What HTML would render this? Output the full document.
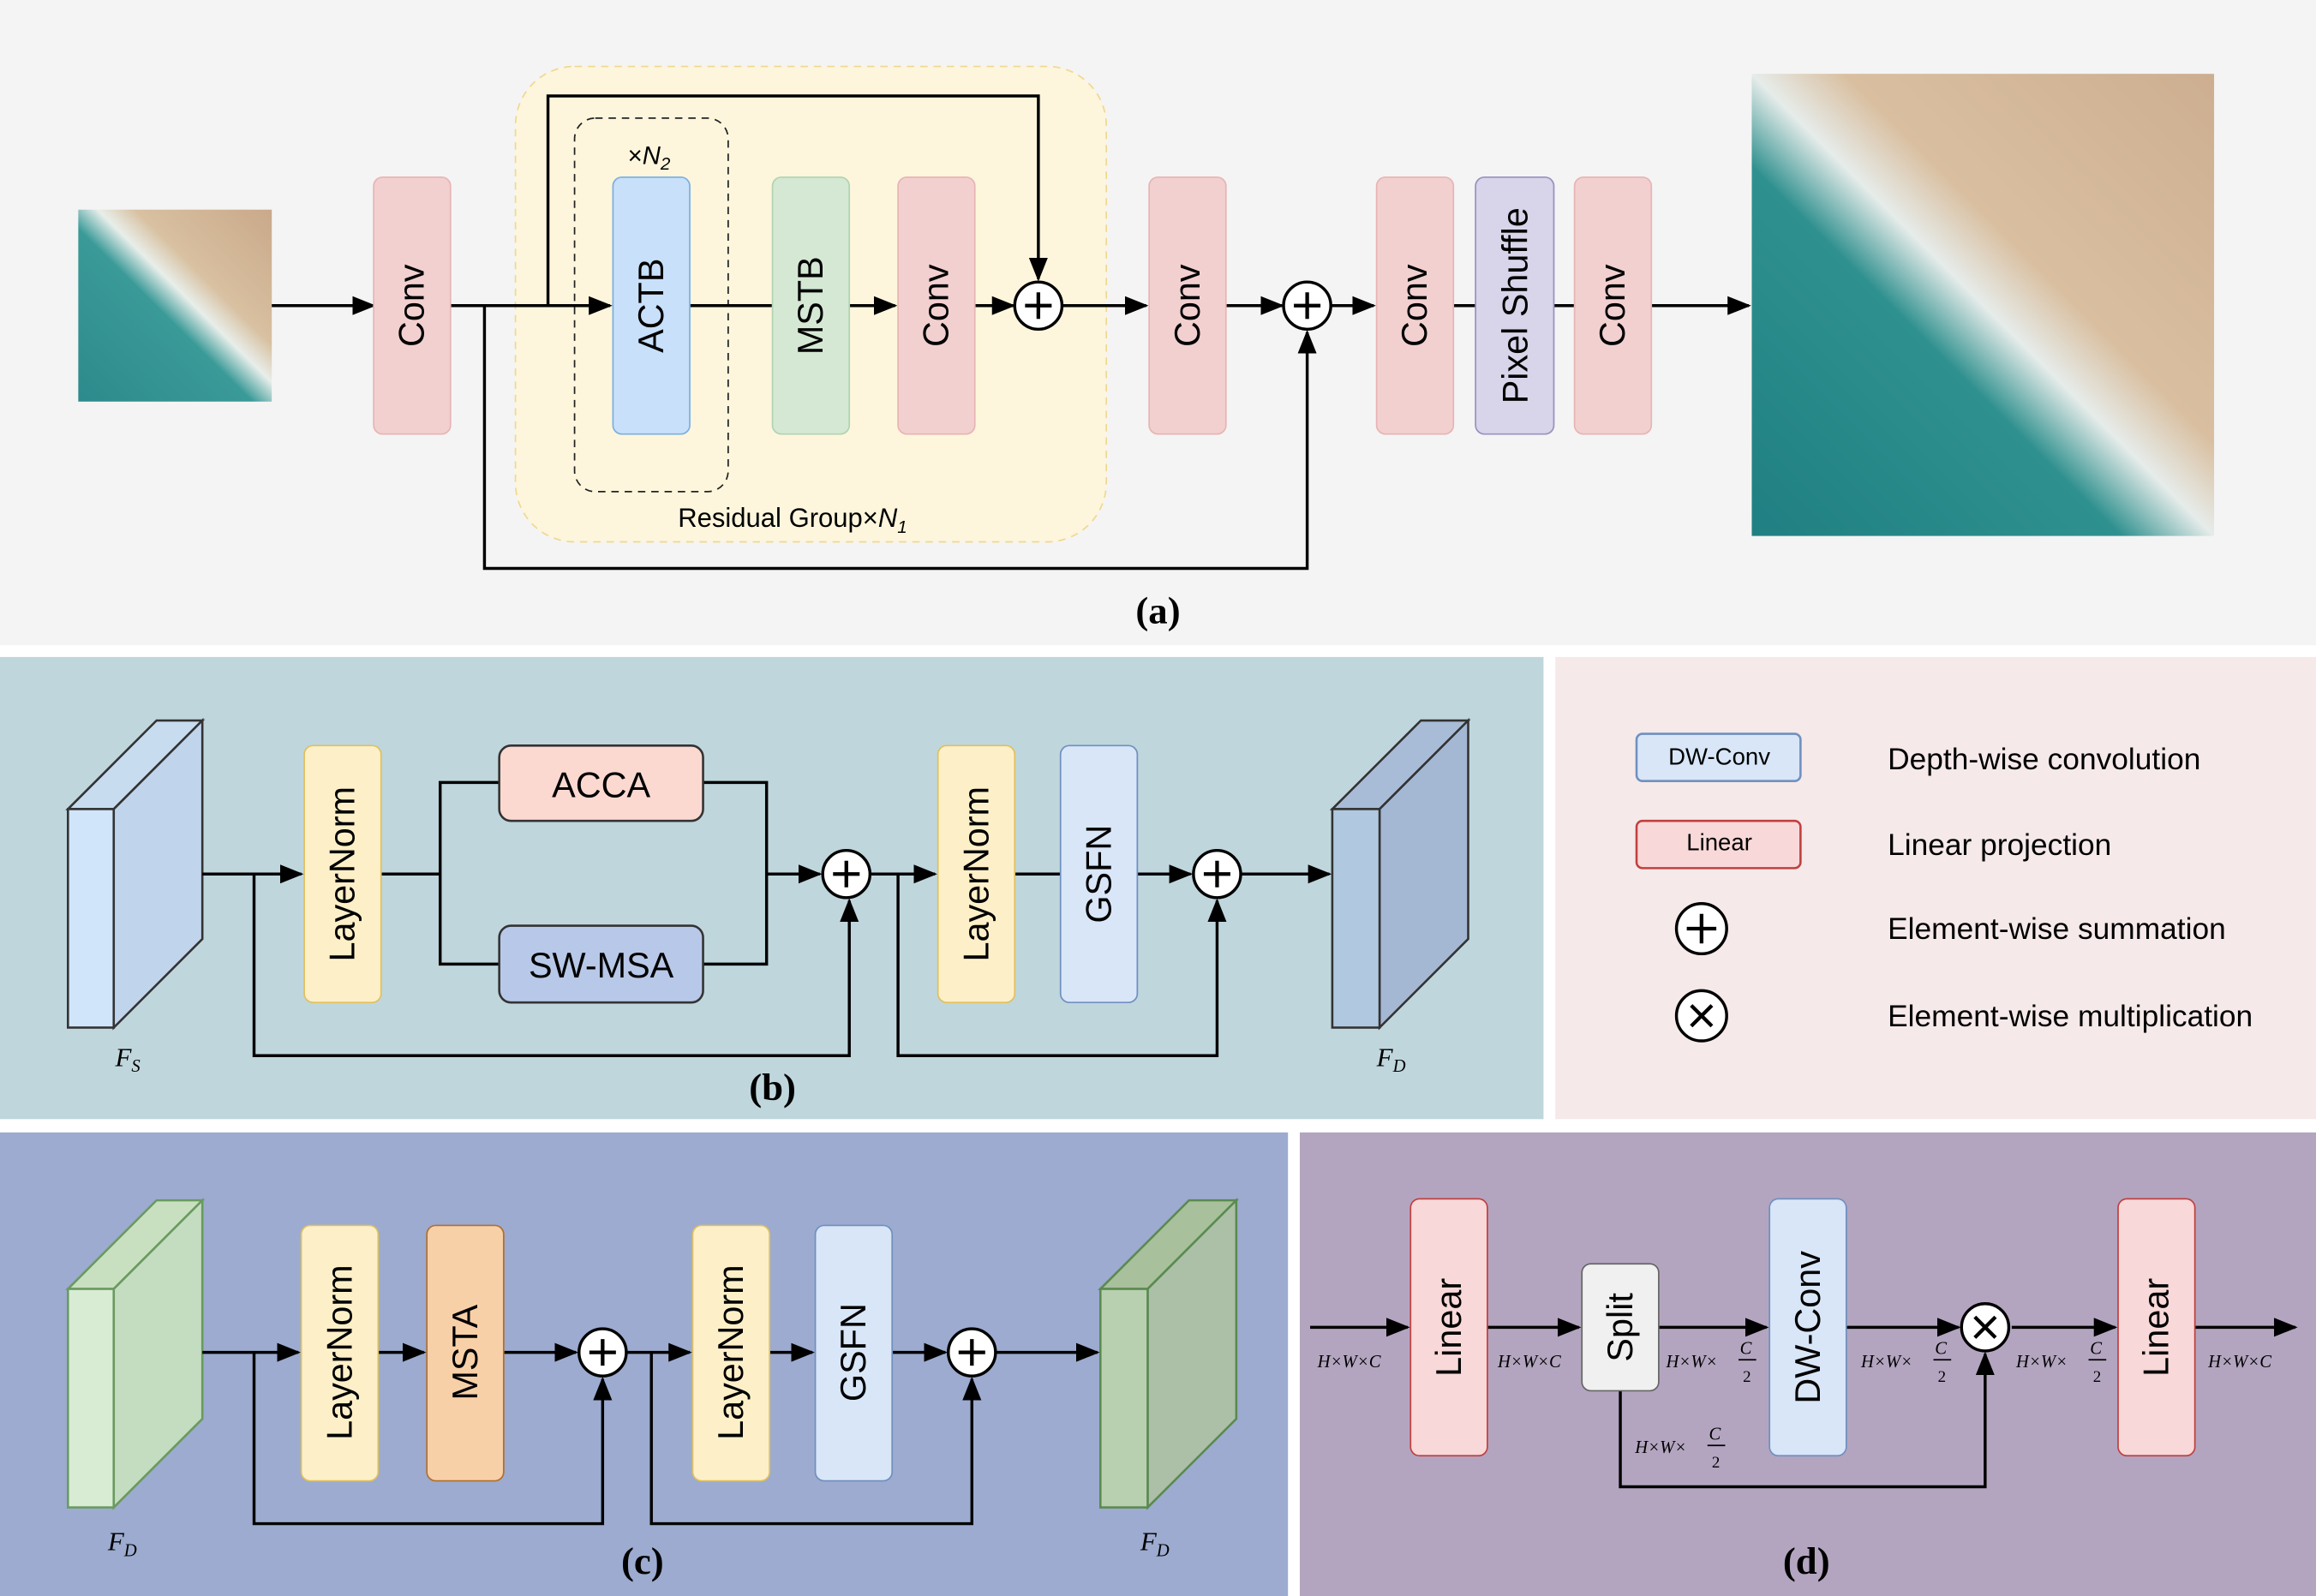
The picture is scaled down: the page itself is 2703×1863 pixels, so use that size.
<!DOCTYPE html>
<html><head><meta charset="utf-8"><style>
html,body{margin:0;padding:0;background:#fff;}
svg{display:block;}
text{font-family:"Liberation Sans",sans-serif;}
.serif, .serif text{font-family:"Liberation Serif",serif;}
</style></head><body>
<svg width="2703" height="1863" viewBox="0 0 1568 1081" preserveAspectRatio="none" xmlns="http://www.w3.org/2000/svg">
<defs>
<marker id="ar" viewBox="0 0 10 10" refX="9" refY="5" markerWidth="8" markerHeight="8" orient="auto"><path d="M0,1 L10,5 L0,9 z" fill="#000"/></marker>
<linearGradient id="beachS" x1="0" y1="1" x2="1" y2="0">
<stop offset="0" stop-color="#2d8a8c"/><stop offset="0.45" stop-color="#3a9a98"/><stop offset="0.55" stop-color="#e8eeea"/><stop offset="0.65" stop-color="#d8c0a0"/><stop offset="1" stop-color="#c9a98a"/></linearGradient>
<linearGradient id="beachL" x1="0" y1="1" x2="1" y2="0">
<stop offset="0" stop-color="#1f7f82"/><stop offset="0.4" stop-color="#2f918f"/><stop offset="0.5" stop-color="#e6ecea"/><stop offset="0.6" stop-color="#d9bfa0"/><stop offset="1" stop-color="#cdae90"/></linearGradient>
</defs>

<rect x="0" y="0" width="1568" height="437" fill="#f4f4f4"/>
<rect x="0" y="445" width="1045" height="313" fill="#bfd6dc"/>
<rect x="1053" y="445" width="515" height="313" fill="#f5e9e9"/>
<rect x="0" y="767" width="872" height="314" fill="#9cabcf"/>
<rect x="880" y="767" width="688" height="314" fill="#b3a5c0"/>

<!-- ===== (a) ===== -->
<rect x="53" y="142" width="131" height="130" fill="url(#beachS)"/>
<rect x="1186" y="50" width="313" height="313" fill="url(#beachL)"/>
<rect x="349" y="45" width="400" height="322" rx="40" fill="#fdf6dc" stroke="#f0d890" stroke-dasharray="5,4"/>
<rect x="389" y="80" width="104" height="253" rx="14" fill="none" stroke="#222" stroke-dasharray="5,4"/>
<text x="425" y="111" font-size="17">×<tspan font-style="italic">N</tspan><tspan font-size="12" dy="4" font-style="italic">2</tspan></text>
<text x="459" y="357" font-size="18">Residual Group×<tspan font-style="italic">N</tspan><tspan font-size="12" dy="4" font-style="italic">1</tspan></text>

<g stroke="#000" stroke-width="2" fill="none">
<line x1="184" y1="207" x2="253" y2="207" marker-end="url(#ar)"/>
<line x1="305" y1="207" x2="413" y2="207" marker-end="url(#ar)"/>
<line x1="467" y1="207" x2="523" y2="207"/>
<line x1="575" y1="207" x2="606" y2="207" marker-end="url(#ar)"/>
<line x1="660" y1="207" x2="686" y2="207" marker-end="url(#ar)"/>
<line x1="719" y1="207" x2="776" y2="207" marker-end="url(#ar)"/>
<line x1="830" y1="207" x2="868" y2="207" marker-end="url(#ar)"/>
<line x1="901" y1="207" x2="930" y2="207" marker-end="url(#ar)"/>
<line x1="984" y1="207" x2="999" y2="207"/>
<line x1="1052" y1="207" x2="1066" y2="207"/>
<line x1="1118" y1="207" x2="1184" y2="207" marker-end="url(#ar)"/>
<polyline points="371,207 371,65 703,65 703,189" marker-end="url(#ar)"/>
<polyline points="328,207 328,385 885,385 885,225" marker-end="url(#ar)"/>
</g>

<g font-size="24" text-anchor="middle">
<g><rect x="253" y="120" width="52" height="174" rx="6" fill="#f2d0d0" stroke="#e8b4b4"/><text transform="translate(287,207) rotate(-90)">Conv</text></g>
<g><rect x="415" y="120" width="52" height="174" rx="6" fill="#c8e0fa" stroke="#7ab0e0"/><text transform="translate(449,207) rotate(-90)">ACTB</text></g>
<g><rect x="523" y="120" width="52" height="174" rx="6" fill="#d4e8d4" stroke="#b0d4b0"/><text transform="translate(557,207) rotate(-90)">MSTB</text></g>
<g><rect x="608" y="120" width="52" height="174" rx="6" fill="#f2d0d0" stroke="#e8b4b4"/><text transform="translate(642,207) rotate(-90)">Conv</text></g>
<g><rect x="778" y="120" width="52" height="174" rx="6" fill="#f2d0d0" stroke="#e8b4b4"/><text transform="translate(812,207) rotate(-90)">Conv</text></g>
<g><rect x="932" y="120" width="52" height="174" rx="6" fill="#f2d0d0" stroke="#e8b4b4"/><text transform="translate(966,207) rotate(-90)">Conv</text></g>
<g><rect x="999" y="120" width="53" height="174" rx="6" fill="#d8d4ea" stroke="#9a90c0"/><text transform="translate(1034,207) rotate(-90)">Pixel Shuffle</text></g>
<g><rect x="1066" y="120" width="52" height="174" rx="6" fill="#f2d0d0" stroke="#e8b4b4"/><text transform="translate(1100,207) rotate(-90)">Conv</text></g>
</g>
<g><circle cx="703" cy="207" r="16" fill="#fff" stroke="#000" stroke-width="2"/><path d="M694,207h18M703,198v18" stroke="#000" stroke-width="2.5"/></g>
<g><circle cx="885" cy="207" r="16" fill="#fff" stroke="#000" stroke-width="2"/><path d="M876,207h18M885,198v18" stroke="#000" stroke-width="2.5"/></g>
<text x="784" y="422" class="serif" font-size="26" font-weight="bold" text-anchor="middle">(a)</text>

<!-- ===== (b) ===== -->
<g>
<polygon points="46,548 106,488 137,488 77,548" fill="#c8dcf0" stroke="#333" stroke-width="1.5"/>
<polygon points="77,548 137,488 137,636 77,696" fill="#c0d4ec" stroke="#333" stroke-width="1.5"/>
<rect x="46" y="548" width="31" height="148" fill="#d0e4fa" stroke="#333" stroke-width="1.5"/></g>
<text x="78" y="722" class="serif" font-size="18" font-style="italic">F<tspan font-size="12" dy="4">S</tspan></text>
<g>
<polygon points="902,548 962,488 994,488 934,548" fill="#a8bcd8" stroke="#333" stroke-width="1.5"/>
<polygon points="934,548 994,488 994,636 934,696" fill="#a4b8d4" stroke="#333" stroke-width="1.5"/>
<rect x="902" y="548" width="32" height="148" fill="#b0c8e0" stroke="#333" stroke-width="1.5"/></g>
<text x="932" y="722" class="serif" font-size="18" font-style="italic">F<tspan font-size="12" dy="4">D</tspan></text>
<g stroke="#000" stroke-width="2" fill="none">
<line x1="137" y1="592" x2="204" y2="592" marker-end="url(#ar)"/>
<line x1="258" y1="592" x2="298" y2="592"/>
<polyline points="338,530 298,530 298,653 338,653"/>
<polyline points="476,530 519,530 519,653 476,653"/>
<line x1="519" y1="592" x2="555" y2="592" marker-end="url(#ar)"/>
<line x1="589" y1="592" x2="633" y2="592" marker-end="url(#ar)"/>
<line x1="687" y1="592" x2="718" y2="592"/>
<line x1="770" y1="592" x2="806" y2="592" marker-end="url(#ar)"/>
<line x1="840" y1="592" x2="900" y2="592" marker-end="url(#ar)"/>
<polyline points="172,592 172,715 575,715 575,610" marker-end="url(#ar)"/>
<polyline points="608,592 608,715 824,715 824,610" marker-end="url(#ar)"/>
</g>
<g font-size="24" text-anchor="middle">
<g><rect x="206" y="505" width="52" height="174" rx="6" fill="#fdf0c8" stroke="#e0c060"/><text transform="translate(240,592) rotate(-90)">LayerNorm</text></g>
<g><rect x="338" y="505" width="138" height="51" rx="8" fill="#fbd9d0" stroke="#333" stroke-width="1.5"/><text x="407" y="540">ACCA</text></g>
<g><rect x="338" y="627" width="138" height="52" rx="8" fill="#b8c8e8" stroke="#333" stroke-width="1.5"/><text x="407" y="662">SW-MSA</text></g>
<g><rect x="635" y="505" width="52" height="174" rx="6" fill="#fdf0c8" stroke="#e0c060"/><text transform="translate(669,592) rotate(-90)">LayerNorm</text></g>
<g><rect x="718" y="505" width="52" height="174" rx="6" fill="#d8e6f8" stroke="#7090c0"/><text transform="translate(752,592) rotate(-90)">GSFN</text></g>
</g>
<g><circle cx="573" cy="592" r="16" fill="#fff" stroke="#000" stroke-width="2"/><path d="M564,592h18M573,583v18" stroke="#000" stroke-width="2.5"/></g>
<g><circle cx="824" cy="592" r="16" fill="#fff" stroke="#000" stroke-width="2"/><path d="M815,592h18M824,583v18" stroke="#000" stroke-width="2.5"/></g>
<text x="523" y="745" class="serif" font-size="26" font-weight="bold" text-anchor="middle">(b)</text>

<!-- legend -->
<g font-size="20.5">
<g><rect x="1108" y="497" width="111" height="32" rx="4" fill="#d8e6f8" stroke="#7090c0" stroke-width="1.5"/><text x="1164" y="518" font-size="16" text-anchor="middle">DW-Conv</text><text x="1278" y="521">Depth-wise convolution</text></g>
<g><rect x="1108" y="556" width="111" height="32" rx="4" fill="#f8d8d8" stroke="#c04040" stroke-width="1.5"/><text x="1164" y="576" font-size="16" text-anchor="middle">Linear</text><text x="1278" y="579">Linear projection</text></g>
<g><circle cx="1152" cy="629" r="17" fill="#fff" stroke="#000" stroke-width="2"/><path d="M1142,629h20M1152,619v20" stroke="#000" stroke-width="2.5"/><text x="1278" y="636">Element-wise summation</text></g>
<g><circle cx="1152" cy="688" r="17" fill="#fff" stroke="#000" stroke-width="2"/><path d="M1145,681l14,14M1159,681l-14,14" stroke="#000" stroke-width="2.5"/><text x="1278" y="695">Element-wise multiplication</text></g>
</g>

<!-- ===== (c) ===== -->
<g>
<polygon points="46,873 106,813 137,813 77,873" fill="#c8e0c0" stroke="#6a9a60" stroke-width="1.5"/>
<polygon points="77,873 137,813 137,961 77,1021" fill="#c4dcc0" stroke="#6a9a60" stroke-width="1.5"/>
<rect x="46" y="873" width="31" height="148" fill="#d8ecd4" stroke="#6a9a60" stroke-width="1.5"/></g>
<text x="73" y="1050" class="serif" font-size="18" font-style="italic">F<tspan font-size="12" dy="4">D</tspan></text>
<g>
<polygon points="745,873 805,813 837,813 777,873" fill="#a8c09c" stroke="#5a8a50" stroke-width="1.5"/>
<polygon points="777,873 837,813 837,961 777,1021" fill="#acc0a8" stroke="#5a8a50" stroke-width="1.5"/>
<rect x="745" y="873" width="32" height="148" fill="#b8d0b0" stroke="#5a8a50" stroke-width="1.5"/></g>
<text x="772" y="1050" class="serif" font-size="18" font-style="italic">F<tspan font-size="12" dy="4">D</tspan></text>
<g stroke="#000" stroke-width="2" fill="none">
<line x1="137" y1="916" x2="202" y2="916" marker-end="url(#ar)"/>
<line x1="256" y1="916" x2="287" y2="916" marker-end="url(#ar)"/>
<line x1="341" y1="916" x2="390" y2="916" marker-end="url(#ar)"/>
<line x1="424" y1="916" x2="467" y2="916" marker-end="url(#ar)"/>
<line x1="521" y1="916" x2="550" y2="916" marker-end="url(#ar)"/>
<line x1="604" y1="916" x2="640" y2="916" marker-end="url(#ar)"/>
<line x1="674" y1="916" x2="743" y2="916" marker-end="url(#ar)"/>
<polyline points="172,916 172,1032 408,1032 408,934" marker-end="url(#ar)"/>
<polyline points="441,916 441,1032 658,1032 658,934" marker-end="url(#ar)"/>
</g>
<g font-size="24" text-anchor="middle">
<g><rect x="204" y="830" width="52" height="173" rx="6" fill="#fdf0c8" stroke="#e0c060"/><text transform="translate(238,916) rotate(-90)">LayerNorm</text></g>
<g><rect x="289" y="830" width="52" height="173" rx="6" fill="#f8d0a8" stroke="#b07030"/><text transform="translate(323,916) rotate(-90)">MSTA</text></g>
<g><rect x="469" y="830" width="52" height="173" rx="6" fill="#fdf0c8" stroke="#e0c060"/><text transform="translate(503,916) rotate(-90)">LayerNorm</text></g>
<g><rect x="552" y="830" width="52" height="173" rx="6" fill="#d8e6f8" stroke="#7090c0"/><text transform="translate(586,916) rotate(-90)">GSFN</text></g>
</g>
<g><circle cx="408" cy="916" r="16" fill="#fff" stroke="#000" stroke-width="2"/><path d="M399,916h18M408,907v18" stroke="#000" stroke-width="2.5"/></g>
<g><circle cx="658" cy="916" r="16" fill="#fff" stroke="#000" stroke-width="2"/><path d="M649,916h18M658,907v18" stroke="#000" stroke-width="2.5"/></g>
<text x="435" y="1066" class="serif" font-size="26" font-weight="bold" text-anchor="middle">(c)</text>

<!-- ===== (d) ===== -->
<g stroke="#000" stroke-width="2" fill="none">
<line x1="887" y1="899" x2="953" y2="899" marker-end="url(#ar)"/>
<line x1="1007" y1="899" x2="1069" y2="899" marker-end="url(#ar)"/>
<line x1="1123" y1="899" x2="1196" y2="899" marker-end="url(#ar)"/>
<line x1="1250" y1="899" x2="1326" y2="899" marker-end="url(#ar)"/>
<line x1="1362" y1="899" x2="1432" y2="899" marker-end="url(#ar)"/>
<line x1="1486" y1="899" x2="1554" y2="899" marker-end="url(#ar)"/>
<polyline points="1097,942 1097,1007 1344,1007 1344,917" marker-end="url(#ar)"/>
</g>
<g font-size="24" text-anchor="middle">
<g><rect x="955" y="812" width="52" height="174" rx="6" fill="#f8d8d8" stroke="#c04040"/><text transform="translate(989,899) rotate(-90)">Linear</text></g>
<g><rect x="1071" y="856" width="52" height="86" rx="6" fill="#f0f0f0" stroke="#666"/><text transform="translate(1105,899) rotate(-90)">Split</text></g>
<g><rect x="1198" y="812" width="52" height="174" rx="6" fill="#d8e6f8" stroke="#7090c0"/><text transform="translate(1232,899) rotate(-90)">DW-Conv</text></g>
<g><rect x="1434" y="812" width="52" height="174" rx="6" fill="#f8d8d8" stroke="#c04040"/><text transform="translate(1468,899) rotate(-90)">Linear</text></g>
</g>
<g><circle cx="1344" cy="899" r="16" fill="#fff" stroke="#000" stroke-width="2"/><path d="M1337,892l14,14M1351,892l-14,14" stroke="#000" stroke-width="2.5"/></g>
<g class="serif" font-size="12" font-style="italic">
<text x="892" y="926">H×W×C</text>
<text x="1014" y="926">H×W×C</text>
<text x="1495" y="926">H×W×C</text>
<g><text x="1128" y="926">H×W×</text><text x="1178" y="917">C</text><line x1="1177" y1="921" x2="1189" y2="921" stroke="#000" stroke-width="1"/><text x="1180" y="936" font-style="normal" font-size="11">2</text></g>
<g><text x="1260" y="926">H×W×</text><text x="1310" y="917">C</text><line x1="1309" y1="921" x2="1321" y2="921" stroke="#000" stroke-width="1"/><text x="1312" y="936" font-style="normal" font-size="11">2</text></g>
<g><text x="1365" y="926">H×W×</text><text x="1415" y="917">C</text><line x1="1414" y1="921" x2="1426" y2="921" stroke="#000" stroke-width="1"/><text x="1417" y="936" font-style="normal" font-size="11">2</text></g>
<g><text x="1107" y="984">H×W×</text><text x="1157" y="975">C</text><line x1="1156" y1="979" x2="1168" y2="979" stroke="#000" stroke-width="1"/><text x="1159" y="994" font-style="normal" font-size="11">2</text></g>
</g>
<text x="1223" y="1066" class="serif" font-size="26" font-weight="bold" text-anchor="middle">(d)</text>
</svg>
</body></html>
